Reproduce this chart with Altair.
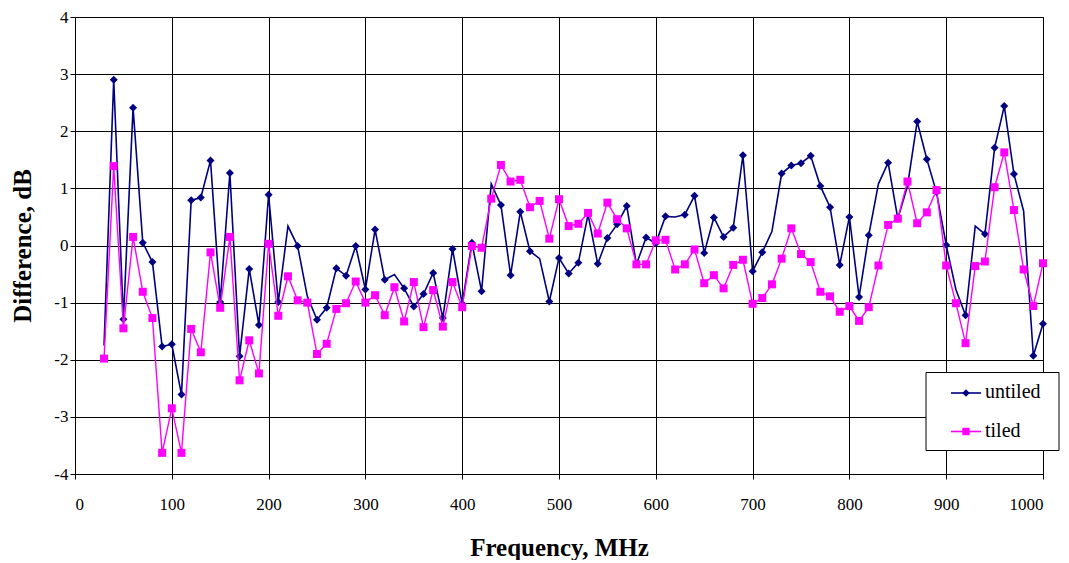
import altair as alt
import pandas as pd

freqs = list(range(30, 1001, 10))

untiled = [
    -1.75, 2.90, -1.29, 2.41, 0.05, -0.29, -1.77, -1.73, -2.61, 0.79,
    0.84, 1.49, -0.99, 1.27, -1.94, -0.41, -1.39, 0.89, -0.99, 0.34,
    -0.01, -0.89, -1.30, -1.09, -0.40, -0.53, -0.01, -0.77, 0.28, -0.60,
    -0.51, -0.75, -1.07, -0.85, -0.48, -1.27, -0.06, -1.02, 0.05, -0.80,
    1.08, 0.71, -0.52, 0.59, -0.10, -0.23, -0.98, -0.22, -0.49, -0.30,
    0.54, -0.32, 0.13, 0.37, 0.69, -0.33, 0.14, 0.04, 0.51, 0.50,
    0.54, 0.87, -0.13, 0.49, 0.15, 0.31, 1.58, -0.45, -0.12, 0.25,
    1.26, 1.40, 1.44, 1.57, 1.04, 0.67, -0.34, 0.50, -0.90, 0.18,
    1.08, 1.45, 0.47, 1.04, 2.17, 1.51, 0.93, 0.01, -0.77, -1.22,
    0.34, 0.20, 1.71, 2.44, 1.25, 0.60, -1.93, -1.37,
]

tiled = [
    -1.98, 1.39, -1.45, 0.15, -0.81, -1.27, -3.63, -2.85, -3.63, -1.46,
    -1.87, -0.12, -1.09, 0.15, -2.36, -1.66, -2.24, 0.03, -1.23, -0.54,
    -0.96, -1.00, -1.90, -1.72, -1.11, -1.01, -0.63, -1.00, -0.87, -1.22,
    -0.73, -1.33, -0.64, -1.43, -0.78, -1.42, -0.64, -1.08, -0.01, -0.04,
    0.82, 1.41, 1.12, 1.15, 0.67, 0.78, 0.12, 0.81, 0.34, 0.38,
    0.57, 0.21, 0.75, 0.46, 0.30, -0.33, -0.33, 0.09, 0.10, -0.42,
    -0.33, -0.07, -0.66, -0.52, -0.75, -0.34, -0.25, -1.02, -0.92, -0.68,
    -0.23, 0.30, -0.15, -0.29, -0.81, -0.89, -1.16, -1.06, -1.32, -1.08,
    -0.35, 0.36, 0.47, 1.12, 0.39, 0.58, 0.97, -0.35, -1.01, -1.71,
    -0.36, -0.28, 1.02, 1.63, 0.62, -0.42, -1.06, -0.31,
]

# untiled points drawn without a marker in the original
untiled_no_marker = [30, 220, 240, 330, 430, 480, 530, 620, 720, 830, 860, 910, 930, 980]

series_names = ["untiled", "tiled"]
series_colors = ["#000080", "#FF00FF"]

x_ticks = list(range(0, 1001, 100))
y_ticks = [-4, -3, -2, -1, 0, 1, 2, 3, 4]

rows = []
for f, u, t in zip(freqs, untiled, tiled):
    rows.append({"freq": f, "value": u, "series": "untiled", "marker": f not in untiled_no_marker})
    rows.append({"freq": f, "value": t, "series": "tiled", "marker": True})
df = pd.DataFrame(rows)

FONT = "Liberation Serif"

x_enc = alt.X("freq:Q", scale=alt.Scale(domain=[0, 1000], nice=False),
              axis=alt.Axis(values=x_ticks, labelExpr="'' + datum.value", title="Frequency, MHz",
                            labelPadding=17, titlePadding=23, tickSize=5))
y_enc = alt.Y("value:Q", scale=alt.Scale(domain=[-4, 4], nice=False),
              axis=alt.Axis(values=y_ticks, labelExpr="'' + datum.value", title="Difference, dB",
                            labelPadding=2, titlePadding=18, tickSize=5))
color_enc = alt.Color("series:N", scale=alt.Scale(domain=series_names, range=series_colors), legend=None)
shape_enc = alt.Shape("series:N", scale=alt.Scale(domain=series_names, range=["diamond", "square"]), legend=None)

base = alt.Chart(df)

u_line = base.transform_filter(alt.datum.series == "untiled").mark_line(strokeWidth=1.6).encode(
    x=x_enc, y=y_enc, color=color_enc)
u_pts = base.transform_filter((alt.datum.series == "untiled") & alt.datum.marker).mark_point(
    filled=True, opacity=1, size=64).encode(x="freq:Q", y="value:Q", color=color_enc, shape=shape_enc)
t_line = base.transform_filter(alt.datum.series == "tiled").mark_line(strokeWidth=1.4).encode(
    x="freq:Q", y="value:Q", color=color_enc)
t_pts = base.transform_filter(alt.datum.series == "tiled").mark_point(
    filled=True, opacity=1, size=64).encode(x="freq:Q", y="value:Q", color=color_enc, shape=shape_enc)

# manual legend
one = pd.DataFrame({"k": [0]})
lg = alt.Chart(one)
box = lg.mark_rect(fill="white", stroke="black", strokeWidth=1).encode(
    x=alt.value(851), x2=alt.value(984), y=alt.value(355.5), y2=alt.value(433.5))
lines = []
for i, (name, col, shp) in enumerate(zip(series_names, series_colors, ["diamond", "square"])):
    yy = 376 + i * 38.5
    lines.append(lg.mark_rule(color=col, strokeWidth=1.6).encode(
        x=alt.value(876), x2=alt.value(906), y=alt.value(yy)))
    lines.append(lg.mark_point(filled=True, opacity=1, color=col, shape=shp, size=55).encode(
        x=alt.value(891), y=alt.value(yy)))
    lines.append(lg.mark_text(text=name, align="left", baseline="middle", font=FONT,
                              fontSize=20, color="black").encode(
        x=alt.value(910), y=alt.value(yy - 1)))

chart = alt.layer(u_line, u_pts, t_line, t_pts, box, *lines).properties(
    width=968, height=457, background="white",
    padding={"left": 2, "top": 0, "right": 0, "bottom": 0},
).configure_view(stroke="black", strokeWidth=1).configure_axis(
    grid=True, gridColor="black", gridOpacity=1, gridWidth=1,
    domainColor="black", tickColor="black",
    labelFont=FONT, labelFontSize=17, labelColor="black",
    titleFont=FONT, titleFontSize=25, titleFontWeight="bold", titleColor="black",
)

chart.save("out.html", embed_options={"renderer": "svg", "actions": False})
